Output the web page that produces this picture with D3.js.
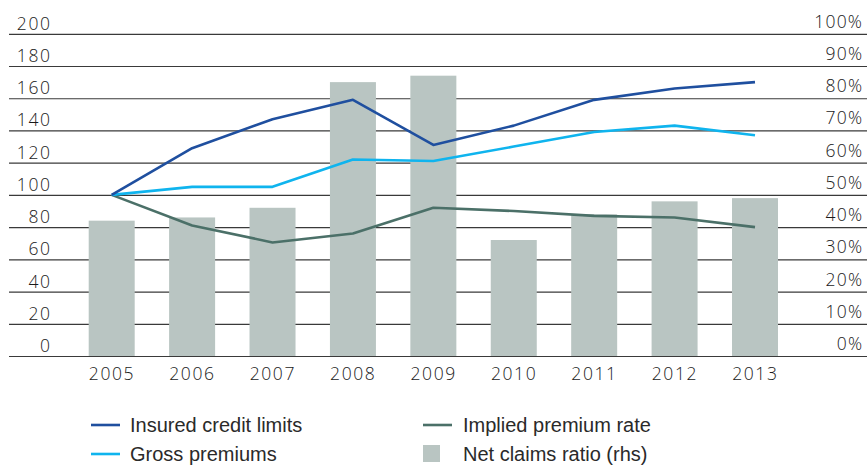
<!DOCTYPE html>
<html><head><meta charset="utf-8">
<script src="https://cdn.jsdelivr.net/npm/d3@7"></script>
<style>
html,body{margin:0;padding:0;background:#fff;}
svg{display:block;font-family:"Liberation Sans",Arial,sans-serif;}
.num{font-family:"Open Sans","DejaVu Sans",sans-serif;font-weight:300;}
</style></head>
<body><svg id="c" width="867" height="465"></svg>
<script>
const years = ["2005","2006","2007","2008","2009","2010","2011","2012","2013"];
const insuredCreditLimits = [100,129,147,159,131,143,159,166,170];
const grossPremiums = [100,105,105,122,121,130,139,143,137];
const impliedPremiumRate = [100,81,70.5,76,92,90,87,86,80];
const netClaimsRatio = [0.42,0.43,0.46,0.85,0.87,0.36,0.44,0.48,0.49];
const leftTicks = [0,20,40,60,80,100,120,140,160,180,200];
const rightTicks = [0,0.1,0.2,0.3,0.4,0.5,0.6,0.7,0.8,0.9,1];
const seriesNames = ["Insured credit limits","Gross premiums","Implied premium rate","Net claims ratio (rhs)"];

const svg = d3.select("#c");
const yL = d3.scaleLinear().domain([0,200]).range([356,33.8]);
const yR = d3.scaleLinear().domain([0,1]).range([356,33.8]);
const x = d3.scalePoint().domain(years).range([111.7,755]);
const barW = 46;
const textCol = "#1a1a1a";
const ls = 1.6;
const fs = "17.5px";

// gridlines + left labels
const gl = svg.append("g").attr("transform","translate(9,0)")
  .call(d3.axisRight(yL).tickValues(leftTicks).tickSize(858).tickFormat(d3.format("d")));
gl.select(".domain").remove();
gl.selectAll(".tick line").attr("stroke","#3a3a3a").attr("stroke-width",1.2);
gl.selectAll(".tick text").attr("class","num").attr("x",41+ls).attr("dy",-4.5).attr("y",0)
  .attr("text-anchor","end").attr("fill",textCol)
  .style("font-size",fs).style("letter-spacing",ls+"px");

// right labels
const gr = svg.append("g").attr("transform","translate(862,0)")
  .call(d3.axisLeft(yR).tickValues(rightTicks).tickSize(0).tickFormat(d3.format(".0%")));
gr.select(".domain").remove();
gr.selectAll(".tick text").attr("class","num").attr("x",1.2).attr("dy",-6.5).attr("y",0)
  .attr("text-anchor","end").attr("fill",textCol)
  .style("font-size",fs).style("letter-spacing","1.2px");

// bars
svg.append("g").selectAll("rect").data(years).join("rect")
  .attr("x",(d)=>x(d)-barW/2).attr("width",barW)
  .attr("y",(d,i)=>yR(netClaimsRatio[i])).attr("height",(d,i)=>yR(0)-yR(netClaimsRatio[i]))
  .attr("fill","#b9c5c2");

// lines
const lineGen = d3.line().x((d,i)=>x(years[i])).y(d=>yL(d));
const lineData = [
  {v:impliedPremiumRate,c:"#4b7068"},
  {v:grossPremiums,c:"#0fb4ee"},
  {v:insuredCreditLimits,c:"#1f4f9f"}
];
svg.append("g").selectAll("path").data(lineData).join("path")
  .attr("d",d=>lineGen(d.v)).attr("fill","none").attr("stroke",d=>d.c)
  .attr("stroke-width",2.6).attr("stroke-linejoin","round");

// x axis labels
const gx = svg.append("g").attr("transform","translate(0,356)")
  .call(d3.axisBottom(x).tickSize(0));
gx.select(".domain").remove();
gx.selectAll(".tick text").attr("class","num").attr("y",23.5).attr("dy",0).attr("x",ls/2-1)
  .attr("fill",textCol).style("font-size",fs).style("letter-spacing",ls+"px");

// legend
const leg = svg.append("g").style("font-size","20px").attr("fill","#2a2a2a");
const items = [
  {n:seriesNames[0],c:"#1f4f9f",t:"line",lx:91,tx:130,y:425},
  {n:seriesNames[1],c:"#0fb4ee",t:"line",lx:91,tx:130,y:454},
  {n:seriesNames[2],c:"#4b7068",t:"line",lx:423,tx:463,y:425},
  {n:seriesNames[3],c:"#b9c5c2",t:"rect",lx:423,tx:463,y:454}
];
items.forEach(it=>{
  if(it.t==="line"){
    leg.append("line").attr("x1",it.lx).attr("x2",it.lx+29).attr("y1",it.y).attr("y2",it.y)
      .attr("stroke",it.c).attr("stroke-width",2.6);
  } else {
    leg.append("rect").attr("x",it.lx).attr("y",it.y-9).attr("width",17).attr("height",17).attr("fill",it.c);
  }
  leg.append("text").attr("x",it.tx).attr("y",it.y+7).text(it.n);
});
</script></body></html>
